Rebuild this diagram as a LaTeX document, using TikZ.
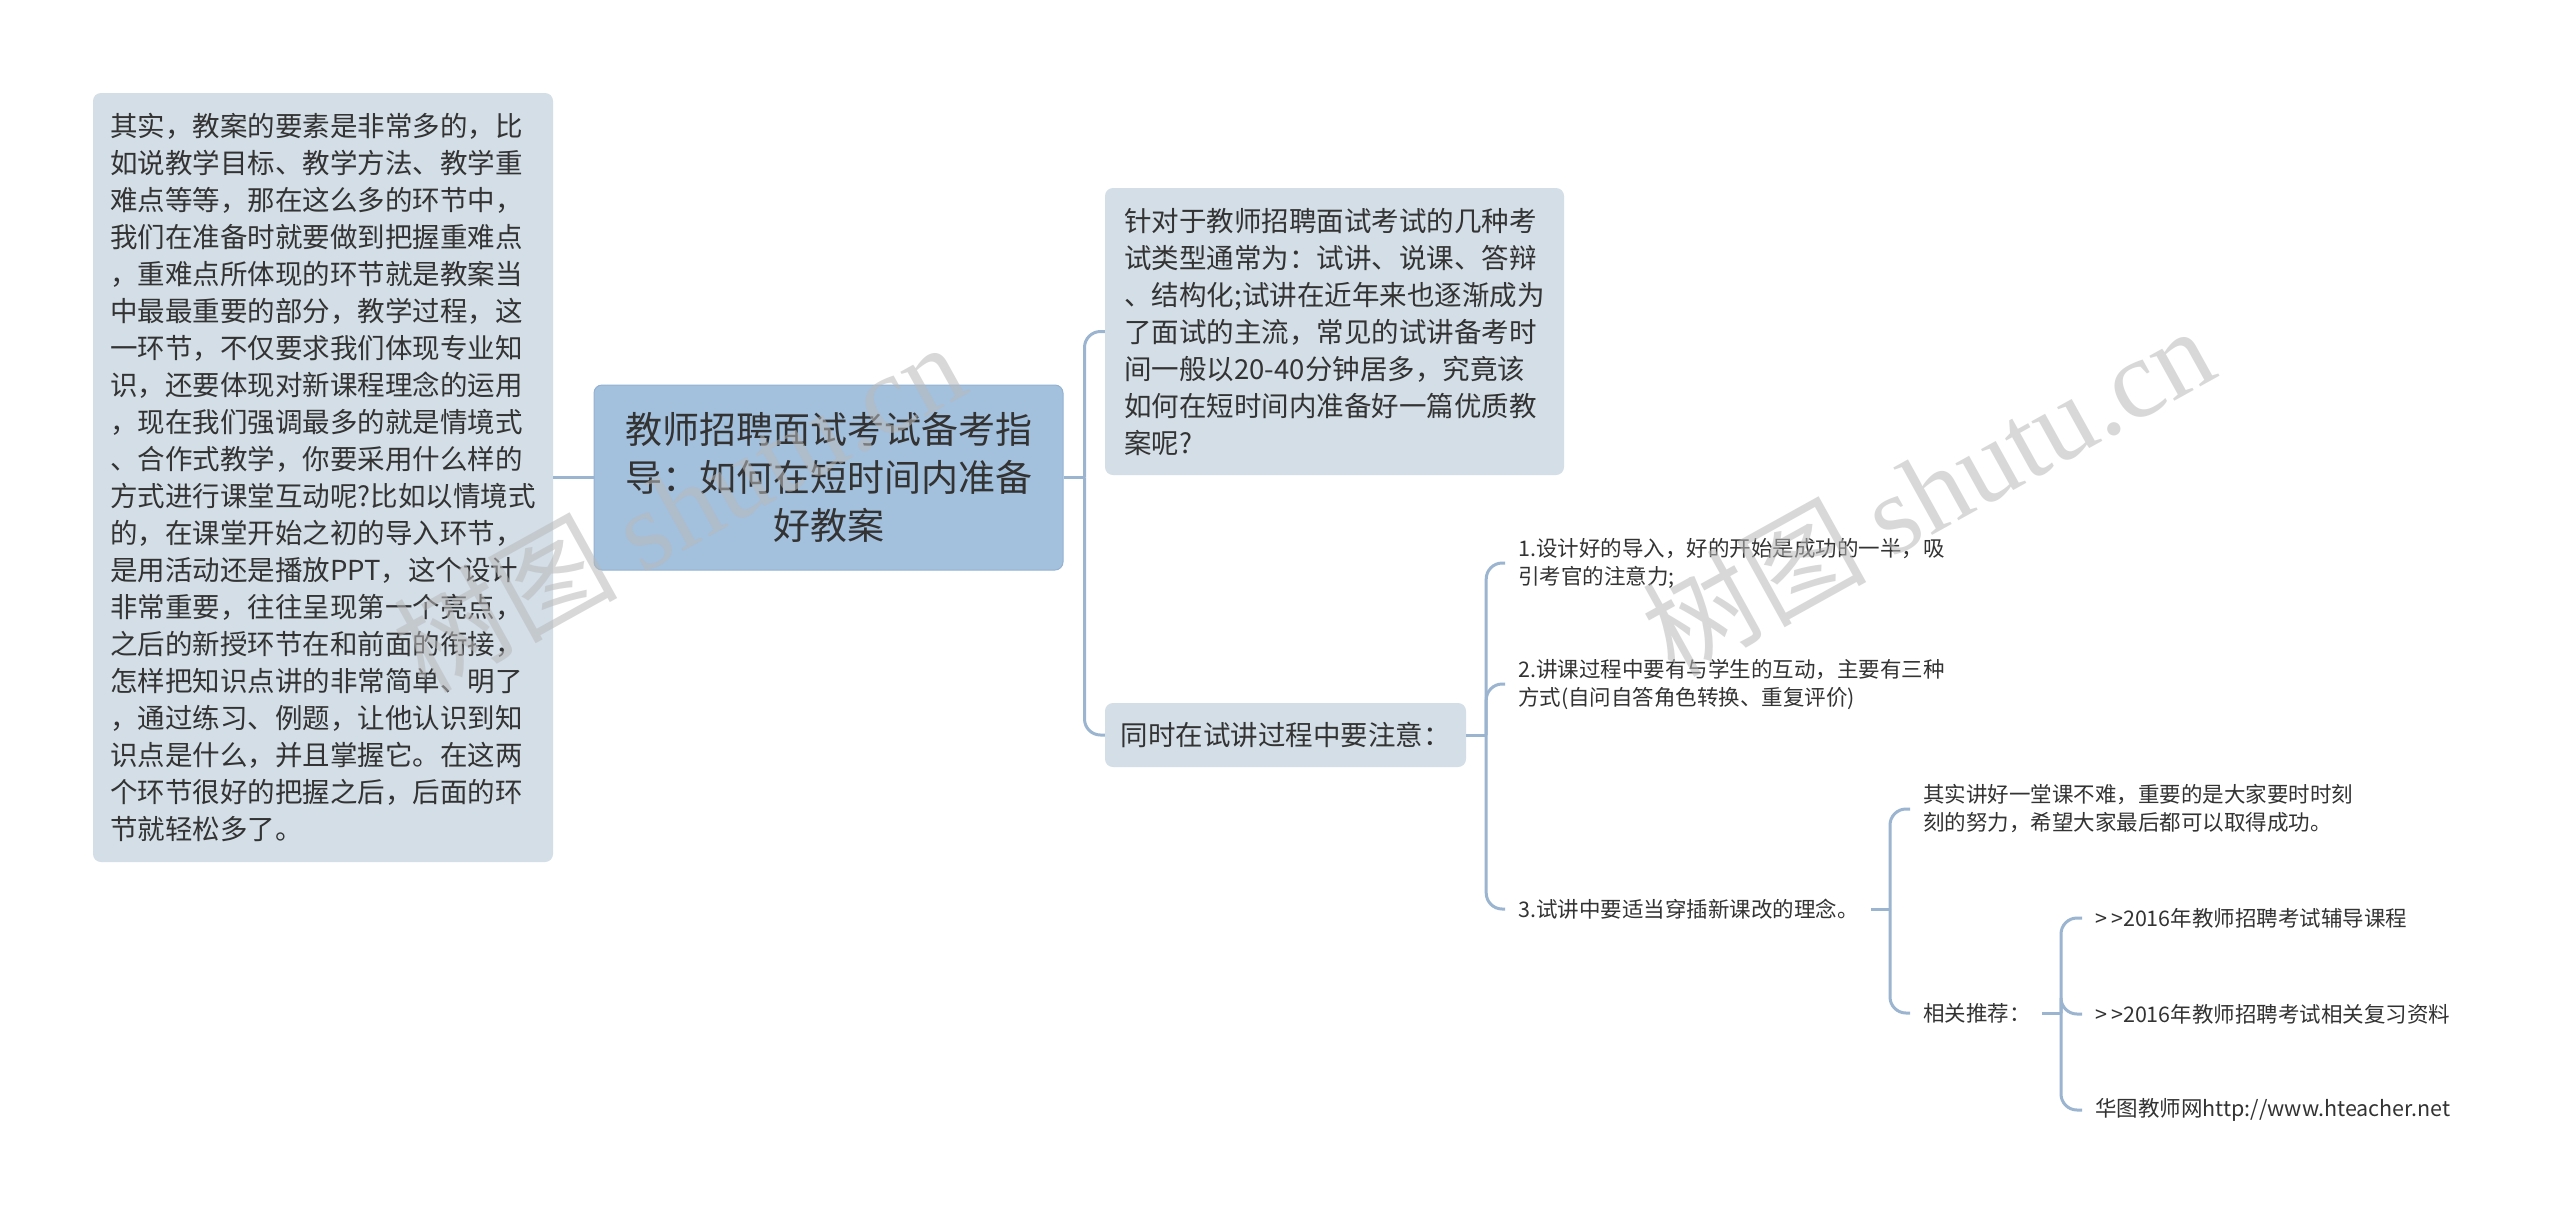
\documentclass[tikz,border=0pt]{standalone}
\usepackage{fontspec}
\setmainfont{Noto Sans CJK SC}
\newfontfamily\wmfont{Liberation Serif}
\usetikzlibrary{calc}
\definecolor{conncol}{HTML}{9BB5D0}
\definecolor{rootfill}{HTML}{A3C0DD}
\definecolor{rootborder}{HTML}{93B2D2}
\definecolor{boxfill}{HTML}{D3DEE7}
\definecolor{txt}{HTML}{333333}
\tikzset{
 conn/.style={draw=conncol, line width=3pt, rounded corners=16pt},
 rootbox/.style={fill=rootfill, draw=rootborder, line width=1pt, rounded corners=8pt, align=center, text=txt, font=\fontsize{37}{48}\selectfont, minimum width=469pt, minimum height=185pt, inner sep=0pt},
 topicbox/.style={fill=boxfill, rounded corners=8pt, align=left, text=txt, font=\fontsize{27.5}{37}\selectfont, inner sep=0pt},
 leaf/.style={align=left, text=txt, font=\fontsize{21.5}{28}\selectfont, inner xsep=13pt, inner ysep=2pt, anchor=west},
 wm/.style={text=gray!55, text opacity=0.55, font=\fontsize{112}{112}\selectfont, rotate=29, inner sep=0pt},
}
\begin{document}
\begin{tikzpicture}[x=1pt,y=-1pt]
\fill[white] (0,0) rectangle (2560,1227);
\useasboundingbox (0,0) rectangle (2560,1227);

\node[topicbox, minimum width=460pt, minimum height=769pt] (left) at (323,477.5) {其实，教案的要素是非常多的，比\\如说教学目标、教学方法、教学重\\难点等等，那在这么多的环节中，\\我们在准备时就要做到把握重难点\\，重难点所体现的环节就是教案当\\中最最重要的部分，教学过程，这\\一环节，不仅要求我们体现专业知\\识，还要体现对新课程理念的运用\\，现在我们强调最多的就是情境式\\、合作式教学，你要采用什么样的\\方式进行课堂互动呢?比如以情境式\\的，在课堂开始之初的导入环节，\\是用活动还是播放PPT，这个设计\\非常重要，往往呈现第一个亮点，\\之后的新授环节在和前面的衔接，\\怎样把知识点讲的非常简单、明了\\，通过练习、例题，让他认识到知\\识点是什么，并且掌握它。在这两\\个环节很好的把握之后，后面的环\\节就轻松多了。};

\node[rootbox] (root) at (828.5,477.5) {教师招聘面试考试备考指\\导：如何在短时间内准备\\好教案};

\node[topicbox, minimum width=459pt, minimum height=287pt] (c1) at (1334.5,331.5) {针对于教师招聘面试考试的几种考\\试类型通常为：试讲、说课、答辩\\、结构化;试讲在近年来也逐渐成为\\了面试的主流，常见的试讲备考时\\间一般以20-40分钟居多，究竟该\\如何在短时间内准备好一篇优质教\\案呢?};

\node[topicbox, minimum width=361pt, minimum height=64pt] (c2) at (1285.5,735) {同时在试讲过程中要注意：};

\node[leaf] (i1) at (1505,563) {1.设计好的导入，好的开始是成功的一半，吸\\引考官的注意力;};
\node[leaf] (i2) at (1505,684) {2.讲课过程中要有与学生的互动，主要有三种\\方式(自问自答角色转换、重复评价)};
\node[leaf] (i3) at (1505,909) {3.试讲中要适当穿插新课改的理念。};

\node[leaf] (s1) at (1910,809) {其实讲好一堂课不难，重要的是大家要时时刻\\刻的努力，希望大家最后都可以取得成功。};
\node[leaf] (s2) at (1910,1013) {相关推荐：};

\node[leaf] (r1) at (2082,918) {>\kern4pt>2016年教师招聘考试辅导课程};
\node[leaf] (r2) at (2082,1014) {>\kern4pt>2016年教师招聘考试相关复习资料};
\node[leaf] (r3) at (2082,1110) {华图教师网http://www.hteacher.net};

% connectors
\draw[conn] (left.east) -- (root.west);

\coordinate (t1) at ($(root.east)+(21,0)$);
\draw[conn] (root.east) -- (t1);
\draw[conn] (t1) |- (c1.west);
\draw[conn] (t1) |- (c2.west);

\coordinate (t2) at ($(c2.east)+(20,0)$);
\draw[conn] (c2.east) -- (t2);
\draw[conn] (t2) |- (i1.west);
\draw[conn] (t2) |- (i2.west);
\draw[conn] (t2) |- (i3.west);

\coordinate (t3) at (1890,909);
\coordinate (t3s) at (1871,909);
\draw[conn] (t3s) -- (t3);
\draw[conn] (t3) |- (s1.west);
\draw[conn] (t3) |- (s2.west);

\coordinate (t4) at (2061,1013);
\coordinate (t4s) at (2042,1013);
\draw[conn] (t4s) -- (t4);
\draw[conn] (t4) |- (r1.west);
\draw[conn] (t4) |- (r2.west);
\draw[conn] (t4) |- (r3.west);

% watermarks
\node[wm] (wm1) at (678,506) {树图 {\wmfont shutu.cn}};
\node[wm] (wm2) at (1927,490) {树图 {\wmfont shutu.cn}};
\end{tikzpicture}
\end{document}
